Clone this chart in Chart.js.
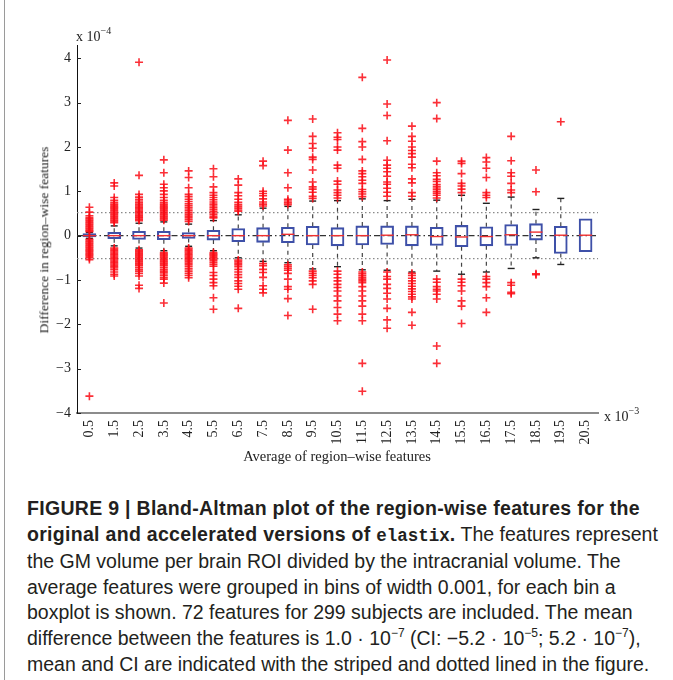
<!DOCTYPE html>
<html>
<head>
<meta charset="utf-8">
<script src="https://cdn.jsdelivr.net/npm/chart.js@4.4.1/dist/chart.umd.min.js"></script>
<style>
  html, body { margin: 0; padding: 0; background: #fff; }
  body { width: 673px; height: 680px; position: relative; overflow: hidden; }
  #wrap { position: absolute; left: 0; top: 0; width: 673px; height: 480px; }
  .lbl { position: absolute; font-family: 'Liberation Serif', serif; font-size: 14px; color: #222; white-space: nowrap; line-height: 1; }
  .lbl sup { font-size: 10px; vertical-align: 7px; }
  #ytitle { left: 44px; top: 240px; font-size: 13.5px; transform: translate(-50%, -50%) rotate(-90deg); }
  #xtitle { left: 337px; top: 456px; font-size: 14.5px; transform: translate(-50%, -50%); }
  #caption { position: absolute; left: 27px; top: 496px; width: 640px; font-family: 'Liberation Sans', Arial, sans-serif;
             font-size: 19.5px; line-height: 25.6px; color: #231f20; white-space: nowrap; }
  #caption b { letter-spacing: 0.3px; }
  #caption sup { font-size: 12px; vertical-align: 8px; line-height: 0; }
  #caption .mono { font-family: 'Liberation Mono', monospace; font-size: 17.5px; letter-spacing: 0; }
  #edge { position: absolute; left: 4px; top: 0; width: 1px; height: 680px; background: #9a9a9a; }
</style>
</head>
<body>
<div id="edge"></div>
<div id="wrap"><canvas id="chart" width="673" height="480"></canvas></div>
<div class="lbl" style="left:76px; top:26px;">x 10<sup>−4</sup></div>
<div class="lbl" style="left:604px; top:406px;">x 10<sup>−3</sup></div>
<div class="lbl" id="ytitle">Difference in region–wise features</div>
<div class="lbl" id="xtitle">Average of region–wise features</div>
<div id="caption"><b>FIGURE 9 | Bland-Altman plot of the region-wise features for the<br>original and accelerated versions of <span class="mono">elastix</span>.</b> The features represent<br>the GM volume per brain ROI divided by the intracranial volume. The<br>average features were grouped in bins of width 0.001, for each bin a<br>boxplot is shown. 72 features for 299 subjects are included. The mean<br>difference between the features is 1.0 · 10<sup>−7</sup> (CI: −5.2 · 10<sup>−5</sup>; 5.2 · 10<sup>−7</sup>),<br>mean and CI are indicated with the striped and dotted lined in the figure.</div>
<script>
// valeurs en unités de 1e-3 (x) et 1e-4 (y)
const bins = [0.5, 1.5, 2.5, 3.5, 4.5, 5.5, 6.5, 7.5, 8.5, 9.5, 10.5, 11.5, 12.5, 13.5, 14.5, 15.5, 16.5, 17.5, 18.5, 19.5, 20.5];
const q1 = [-0.03, -0.07, -0.085, -0.09, -0.065, -0.10, -0.135, -0.15, -0.16, -0.21, -0.23, -0.21, -0.20, -0.23, -0.22, -0.25, -0.23, -0.22, -0.10, -0.40, -0.36];
const median = [0, 0, 0, 0, 0, 0, 0, 0, 0.03, 0, 0, 0, 0.01, 0.02, -0.02, -0.03, -0.02, 0.02, 0.08, 0.01, 0.01];
const q3 = [0.045, 0.074, 0.10, 0.10, 0.07, 0.12, 0.16, 0.18, 0.19, 0.21, 0.18, 0.22, 0.22, 0.22, 0.19, 0.23, 0.20, 0.25, 0.27, 0.21, 0.38];
const whiskerLow = [-0.06, -0.23, -0.28, -0.34, -0.24, -0.34, -0.50, -0.58, -0.61, -0.75, -0.70, -0.77, -0.78, -0.82, -0.80, -0.87, -0.82, -0.74, -0.50, -0.65, null];
const whiskerHigh = [0.07, 0.22, 0.28, 0.31, 0.26, 0.34, 0.47, 0.62, 0.66, 0.78, 0.79, 0.83, 0.79, 0.82, 0.80, 0.91, 0.73, 0.87, 0.59, 0.84, null];
const outliers = [
  [0.64, 0.53, 0.45, 0.41, 0.38, 0.35, 0.32, 0.29, 0.26, 0.23, 0.20, 0.17, 0.14, 0.11, 0.09,
   -0.08, -0.11, -0.14, -0.17, -0.20, -0.23, -0.26, -0.29, -0.32, -0.35, -0.38, -0.41, -0.44, -0.47, -0.50, -0.54, -3.62],
  [1.19, 1.12, 0.86, 0.80, 0.75, 0.71, 0.68, 0.65, 0.62, 0.59, 0.56, 0.53, 0.50, 0.47, 0.44, 0.41, 0.38, 0.35, 0.32, 0.29,
   -0.28, -0.31, -0.34, -0.37, -0.40, -0.43, -0.46, -0.49, -0.52, -0.55, -0.58, -0.61, -0.64, -0.67, -0.70, -0.73, -0.77, -0.82, -0.87, -0.91],
  [3.91, 1.36, 0.93, 0.87, 0.82, 0.78, 0.74, 0.70, 0.67, 0.64, 0.61, 0.58, 0.55, 0.52, 0.49, 0.46, 0.43, 0.40, 0.37, 0.34,
   -0.32, -0.35, -0.38, -0.41, -0.44, -0.47, -0.50, -0.53, -0.56, -0.59, -0.62, -0.65, -0.68, -0.72, -0.76, -0.80, -0.85, -0.91, -1.12, -1.19],
  [1.71, 1.42, 1.16, 1.08, 1.01, 0.93, 0.86, 0.80, 0.75, 0.71, 0.68, 0.65, 0.62, 0.59, 0.56, 0.53, 0.50, 0.47, 0.44, 0.41, 0.38, 0.35,
   -0.38, -0.41, -0.44, -0.47, -0.50, -0.53, -0.56, -0.59, -0.62, -0.65, -0.68, -0.72, -0.76, -0.80, -0.84, -0.89, -0.94, -0.98, -1.07, -1.52],
  [1.46, 1.31, 1.08, 0.93, 0.88, 0.82, 0.77, 0.72, 0.68, 0.64, 0.60, 0.56, 0.52, 0.48, 0.44, 0.40, 0.36, 0.32,
   -0.28, -0.31, -0.34, -0.37, -0.40, -0.43, -0.46, -0.49, -0.52, -0.55, -0.58, -0.62, -0.66, -0.70, -0.75, -0.80, -0.85, -0.90, -0.95],
  [1.51, 1.33, 1.10, 0.97, 0.91, 0.86, 0.81, 0.76, 0.71, 0.67, 0.63, 0.59, 0.55, 0.51, 0.47, 0.43, 0.40,
   -0.38, -0.41, -0.44, -0.47, -0.50, -0.53, -0.57, -0.61, -0.65, -0.69, -0.83, -0.90, -0.98, -1.06, -1.13, -1.40, -1.66],
  [1.28, 1.14, 0.97, 0.90, 0.82, 0.75, 0.70, 0.66, 0.62, 0.58, 0.55,
   -0.55, -0.58, -0.62, -0.66, -0.70, -0.76, -0.82, -0.88, -0.94, -1.02, -1.08, -1.14, -1.21, -1.64],
  [1.68, 1.58, 1.00, 0.95, 0.90, 0.83, 0.76, 0.71, 0.67,
   -0.63, -0.68, -0.76, -0.83, -0.94, -1.13, -1.21, -1.29],
  [2.60, 1.93, 1.42, 1.08, 0.82, 0.78, 0.74, 0.70,
   -0.66, -0.70, -0.74, -0.78, -0.85, -0.98, -1.15, -1.21, -1.42, -1.80],
  [2.63, 2.24, 2.08, 1.97, 1.77, 1.72, 1.48, 1.21, 1.10, 1.05, 0.98, 0.89, 0.84,
   -0.80, -0.85, -0.90, -0.95, -1.02, -1.10, -1.66],
  [2.32, 2.22, 2.17, 2.00, 1.93, 1.59, 1.52, 1.23, 1.16, 1.03, 0.97, 0.91, 0.85,
   -0.80, -0.87, -0.95, -1.02, -1.10, -1.17, -1.25, -1.36, -1.47, -1.62, -1.77, -1.92],
  [3.57, 2.42, 2.12, 2.00, 1.72, 1.46, 1.40, 1.33, 1.25, 1.18, 1.04, 0.99, 0.94, 0.88,
   -0.82, -0.86, -0.90, -0.94, -0.98, -1.02, -1.06, -1.15, -1.25, -1.36, -1.47, -1.59, -1.77, -1.92, -2.88, -3.51],
  [3.96, 2.97, 2.71, 2.14, 1.70, 1.59, 1.52, 1.44, 1.34, 1.21, 1.16, 1.07, 0.98, 0.89,
   -0.82, -0.92, -0.98, -1.10, -1.19, -1.30, -1.43, -1.64, -1.90, -2.09],
  [2.47, 2.24, 2.13, 2.00, 1.92, 1.85, 1.77, 1.61, 1.53, 1.28, 1.19, 0.97, 0.89,
   -0.85, -0.90, -0.96, -1.02, -1.08, -1.14, -1.20, -1.26, -1.32, -1.38, -1.43, -1.73, -2.02],
  [3.00, 2.64, 1.68, 1.42, 1.35, 1.27, 1.22, 1.15, 1.10, 1.05, 1.00, 0.96, 0.91, 0.85,
   -0.98, -1.05, -1.15, -1.21, -1.25, -1.32, -1.43, -2.49, -2.88],
  [1.68, 1.63, 1.40, 1.18, 1.12, 1.05, 0.97,
   -0.98, -1.05, -1.13, -1.25, -1.47, -1.59, -1.98],
  [1.76, 1.66, 1.52, 1.31, 0.97, 0.91, 0.86,
   -0.92, -0.98, -1.06, -1.15, -1.40, -1.73],
  [2.24, 1.69, 1.42, 1.34, 1.18, 1.03, 0.97,
   -1.06, -1.12, -1.28, -1.31],
  [1.48, 0.99, -0.86, -0.88],
  [2.57],
  []
];
const meanDiff = 0.001;   // 1.0e-7
const ciLow = -0.52;
const ciHigh = 0.52;
const yTicks = [-4, -3, -2, -1, 0, 1, 2, 3, 4];
const xMin = 0, xMax = 21;
const yMin = -4, yMax = 4.3;

// points construits à partir des tableaux
const boxData = bins.map((b, i) => ({ x: b, y: [q1[i], q3[i]] }));
const medianData = bins.map((b, i) => ({ x: b, y: median[i] }));
const whiskerData = [];
const capData = [];
bins.forEach((b, i) => {
  if (whiskerHigh[i] === null) return;
  whiskerData.push({ x: b, y: q3[i] }, { x: b, y: whiskerHigh[i] }, { x: b, y: null },
                   { x: b, y: q1[i] }, { x: b, y: whiskerLow[i] }, { x: b, y: null });
  capData.push({ x: b, y: whiskerHigh[i] }, { x: b, y: whiskerLow[i] });
});
const outlierData = [];
bins.forEach((b, i) => outliers[i].forEach(v => outlierData.push({ x: b, y: v })));

const inwardTicks = {
  id: 'inwardTicks',
  afterDatasetsDraw(chart) {
    const { ctx, chartArea } = chart;
    const y = chart.scales.y;
    ctx.save();
    ctx.strokeStyle = '#222';
    ctx.lineWidth = 1;
    yTicks.forEach(v => {
      const py = Math.round(y.getPixelForValue(v)) + 0.5;
      ctx.beginPath();
      ctx.moveTo(chartArea.left, py);
      ctx.lineTo(chartArea.left + 4, py);
      ctx.stroke();
    });
    ctx.restore();
  }
};

new Chart(document.getElementById('chart'), {
  type: 'bar',
  data: {
    datasets: [
      {
        type: 'line', data: [{ x: xMin, y: ciHigh }, { x: xMax, y: ciHigh }],
        borderColor: '#8a8a8a', borderWidth: 1.2, borderDash: [1.5, 2.5], pointRadius: 0, order: 9
      },
      {
        type: 'line', data: [{ x: xMin, y: ciLow }, { x: xMax, y: ciLow }],
        borderColor: '#8a8a8a', borderWidth: 1.2, borderDash: [1.5, 2.5], pointRadius: 0, order: 9
      },
      {
        type: 'line', data: [{ x: xMin, y: meanDiff }, { x: xMax, y: meanDiff }],
        borderColor: '#333', borderWidth: 1.2, borderDash: [6, 3, 1.5, 3], pointRadius: 0, order: 8
      },
      {
        type: 'line', data: whiskerData, spanGaps: false,
        borderColor: '#444', borderWidth: 1.2, borderDash: [4, 4], pointRadius: 0, order: 7
      },
      {
        type: 'scatter', data: capData, pointStyle: 'line', pointRadius: 3.5,
        borderColor: '#222', borderWidth: 1.4, order: 6
      },
      {
        type: 'bar', data: boxData, barThickness: 13, borderSkipped: false,
        backgroundColor: 'rgba(255,255,255,0)', borderColor: '#3e50a8', borderWidth: 1.4, order: 5
      },
      {
        type: 'scatter', data: medianData, pointStyle: 'line', pointRadius: 6.5,
        borderColor: '#f03030', borderWidth: 1.4, order: 4
      },
      {
        type: 'scatter', data: outlierData, pointStyle: 'cross', pointRadius: 4,
        borderColor: 'rgba(250,10,20,0.85)', borderWidth: 1.6, order: 3
      }
    ]
  },
  options: {
    responsive: false,
    animation: false,
    events: [],
    layout: { padding: { left: 0, right: 75, top: 45, bottom: 0 } },
    plugins: { legend: { display: false }, tooltip: { enabled: false } },
    scales: {
      x: {
        type: 'linear', min: xMin, max: xMax, offset: false,
        grid: { display: false, drawTicks: false, offset: false },
        border: { color: '#8c8c8c', width: 2 },
        afterBuildTicks: (scale) => { scale.ticks = bins.map(v => ({ value: v })); },
        afterFit: (scale) => { scale.height = 67; },
        ticks: {
          autoSkip: false, minRotation: 90, maxRotation: 90, padding: 7,
          color: '#222', font: { family: 'Liberation Serif', size: 14 },
          callback: (v) => v.toFixed(1)
        }
      },
      y: {
        type: 'linear', min: yMin, max: yMax,
        grid: { display: false, drawTicks: false },
        border: { color: '#111', width: 1 },
        afterBuildTicks: (scale) => { scale.ticks = yTicks.map(v => ({ value: v })); },
        afterFit: (scale) => { scale.width = 77; },
        ticks: {
          padding: 6, color: '#222', font: { family: 'Liberation Serif', size: 14 },
          callback: (v) => (v < 0 ? '−' + Math.abs(v) : String(v))
        }
      }
    }
  },
  plugins: [inwardTicks]
});
</script>
</body>
</html>
